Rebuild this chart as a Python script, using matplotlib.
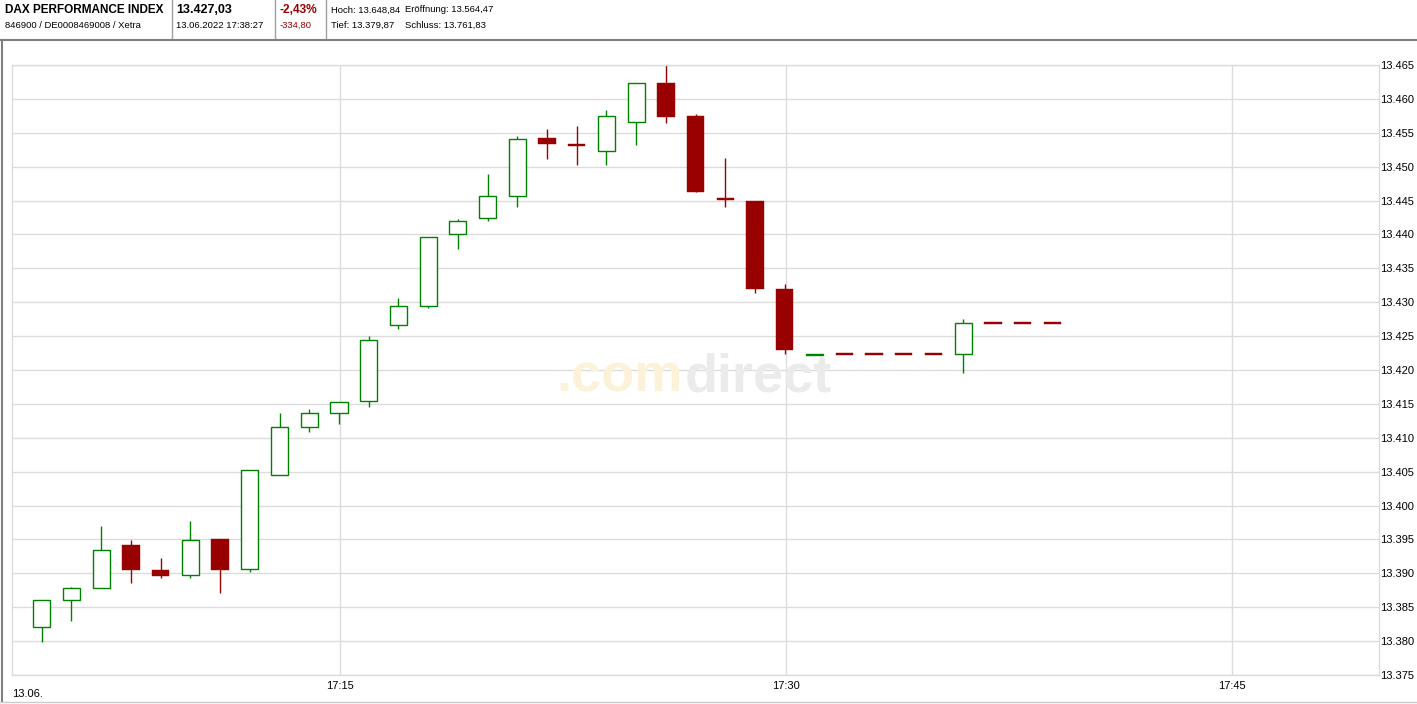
import matplotlib.pyplot as plt
from matplotlib.lines import Line2D

plt.rcParams['font.family'] = ['Liberation Sans', 'DejaVu Sans']

# minute candles, 17:05 .. 17:39
minutes = list(range(5, 40))
opens = [13.3821, 13.3861, 13.3879, 13.3942, 13.3905, 13.3897, 13.3950, 13.3906, 13.4045, 13.4116,
         13.4136, 13.4154, 13.4266, 13.4294, 13.4401, 13.4424, 13.4456, 13.4543, 13.4533, 13.4523,
         13.4566, 13.4624, 13.4575, 13.4453, 13.4450, 13.4320, 13.4222, 13.4223, 13.4223, 13.4223,
         13.4223, 13.4223, 13.4270, 13.4270, 13.4270]
highs = [13.3861, 13.3880, 13.3970, 13.3949, 13.3922, 13.3977, 13.3950, 13.4053, 13.4137, 13.4142,
         13.4153, 13.4250, 13.4306, 13.4396, 13.4423, 13.4489, 13.4545, 13.4556, 13.4560, 13.4584,
         13.4623, 13.4650, 13.4578, 13.4513, 13.4450, 13.4327, 13.4223, 13.4223, 13.4223, 13.4223,
         13.4223, 13.4275, 13.4270, 13.4270, 13.4270]
lows = [13.3799, 13.3830, 13.3879, 13.3886, 13.3893, 13.3893, 13.3871, 13.3902, 13.4045, 13.4108,
        13.4120, 13.4146, 13.4260, 13.4291, 13.4379, 13.4420, 13.4440, 13.4512, 13.4502, 13.4502,
        13.4532, 13.4564, 13.4462, 13.4440, 13.4313, 13.4223, 13.4222, 13.4223, 13.4223, 13.4223,
        13.4223, 13.4195, 13.4270, 13.4270, 13.4270]
closes = [13.3861, 13.3879, 13.3935, 13.3905, 13.3896, 13.3949, 13.3905, 13.4053, 13.4116, 13.4136,
          13.4153, 13.4244, 13.4294, 13.4396, 13.4420, 13.4456, 13.4541, 13.4533, 13.4531, 13.4575,
          13.4623, 13.4573, 13.4462, 13.4452, 13.4319, 13.4229, 13.4223, 13.4223, 13.4223, 13.4223,
          13.4223, 13.4270, 13.4270, 13.4270, 13.4270]

y_ticks = [13.375 + 0.005 * k for k in range(19)]
y_labels = ['13.375', '13.380', '13.385', '13.390', '13.395', '13.400', '13.405', '13.410', '13.415',
            '13.420', '13.425', '13.430', '13.435', '13.440', '13.445', '13.450', '13.455', '13.460',
            '13.465']
x_ticks = [15, 30, 45]
x_labels = ['17:15', '17:30', '17:45']

green = '#008000'
red = '#990000'
grid = '#dcdcdc'

W, H = 1417, 704
fig = plt.figure(figsize=(W / 100, H / 100), dpi=100)
fig.patch.set_facecolor('white')

def px(x):
    return x / W

def py(y):
    return 1 - y / H

ax = fig.add_axes([px(12), py(675), px(1379 - 12), (675 - 65) / H])
ax.set_xlim(3.96, 49.95)
ax.set_ylim(13.375, 13.465)

# watermark
fig.text(px(556), py(392), '.com', fontsize=39, fontweight='bold', color='#fcf2da',
         ha='left', va='baseline', zorder=0)
fig.text(px(832), py(392), 'direct', fontsize=39, fontweight='bold', color='#ebebeb',
         ha='right', va='baseline', zorder=0)

ax.set_facecolor('none')
for s in ax.spines.values():
    s.set_color(grid)
    s.set_linewidth(1)

ax.set_yticks(y_ticks)
ax.set_yticklabels(y_labels)
ax.yaxis.tick_right()
ax.set_xticks(x_ticks)
ax.set_xticklabels(x_labels)
ax.tick_params(axis='both', length=0, labelsize=8, colors='black')
ax.tick_params(axis='y', pad=0.8)
ax.tick_params(axis='x', pad=4)
ax.grid(True, color=grid, linewidth=1)
ax.set_axisbelow(True)

width = 0.58
min_h = 0.0003
for m, o, h, l, c in zip(minutes, opens, highs, lows, closes):
    x = m - 0.04
    if c > o:
        ax.vlines(x, l, h, color=green, linewidth=1.0, zorder=2)
        ax.bar(x, c - o, width=width, bottom=o, facecolor='white', edgecolor=green,
               linewidth=1.0, zorder=3)
    else:
        ax.vlines(x, l, h, color=red, linewidth=1.0, zorder=2)
        hgt = max(o - c, min_h)
        mid = (o + c) / 2
        ax.bar(x, hgt, width=width, bottom=mid - hgt / 2, facecolor=red, edgecolor=red,
               linewidth=0.3, zorder=3)

fig.text(px(12), py(694), '13.06.', fontsize=8, ha='left', va='center')

# header
fig.text(px(5), py(10), 'DAX PERFORMANCE INDEX', fontsize=8.5, fontweight='bold', ha='left', va='center')
fig.text(px(5), py(25), '846900 / DE0008469008 / Xetra', fontsize=6.8, ha='left', va='center')
fig.text(px(176), py(10), '13.427,03', fontsize=9, fontweight='bold', ha='left', va='center')
fig.text(px(176), py(25), '13.06.2022 17:38:27', fontsize=6.8, ha='left', va='center')
fig.text(px(280), py(10), '-2,43%', fontsize=8.6, fontweight='bold', color=red, ha='left', va='center')
fig.text(px(280), py(25), '-334,80', fontsize=6.8, color=red, ha='left', va='center')
fig.text(px(331), py(10), 'Hoch: 13.648,84', fontsize=6.8, ha='left', va='center')
fig.text(px(405), py(10), 'Eröffnung: 13.564,47', fontsize=6.8, ha='left', va='center')
fig.text(px(331), py(25), 'Tief: 13.379,87', fontsize=6.8, ha='left', va='center')
fig.text(px(405), py(25), 'Schluss: 13.761,83', fontsize=6.8, ha='left', va='center')

for xs in [172, 275, 326]:
    fig.add_artist(Line2D([px(xs), px(xs)], [py(0), py(38)], color='#a0a0a0', linewidth=1))
fig.add_artist(Line2D([0, 1], [py(39.5), py(39.5)], color='#808080', linewidth=1.5))
fig.add_artist(Line2D([px(1.5), px(1.5)], [py(40), py(701)], color='#808080', linewidth=1.5))
fig.add_artist(Line2D([0, 1], [py(701.5), py(701.5)], color='#cccccc', linewidth=1))

fig.savefig('out.png', dpi=100)
